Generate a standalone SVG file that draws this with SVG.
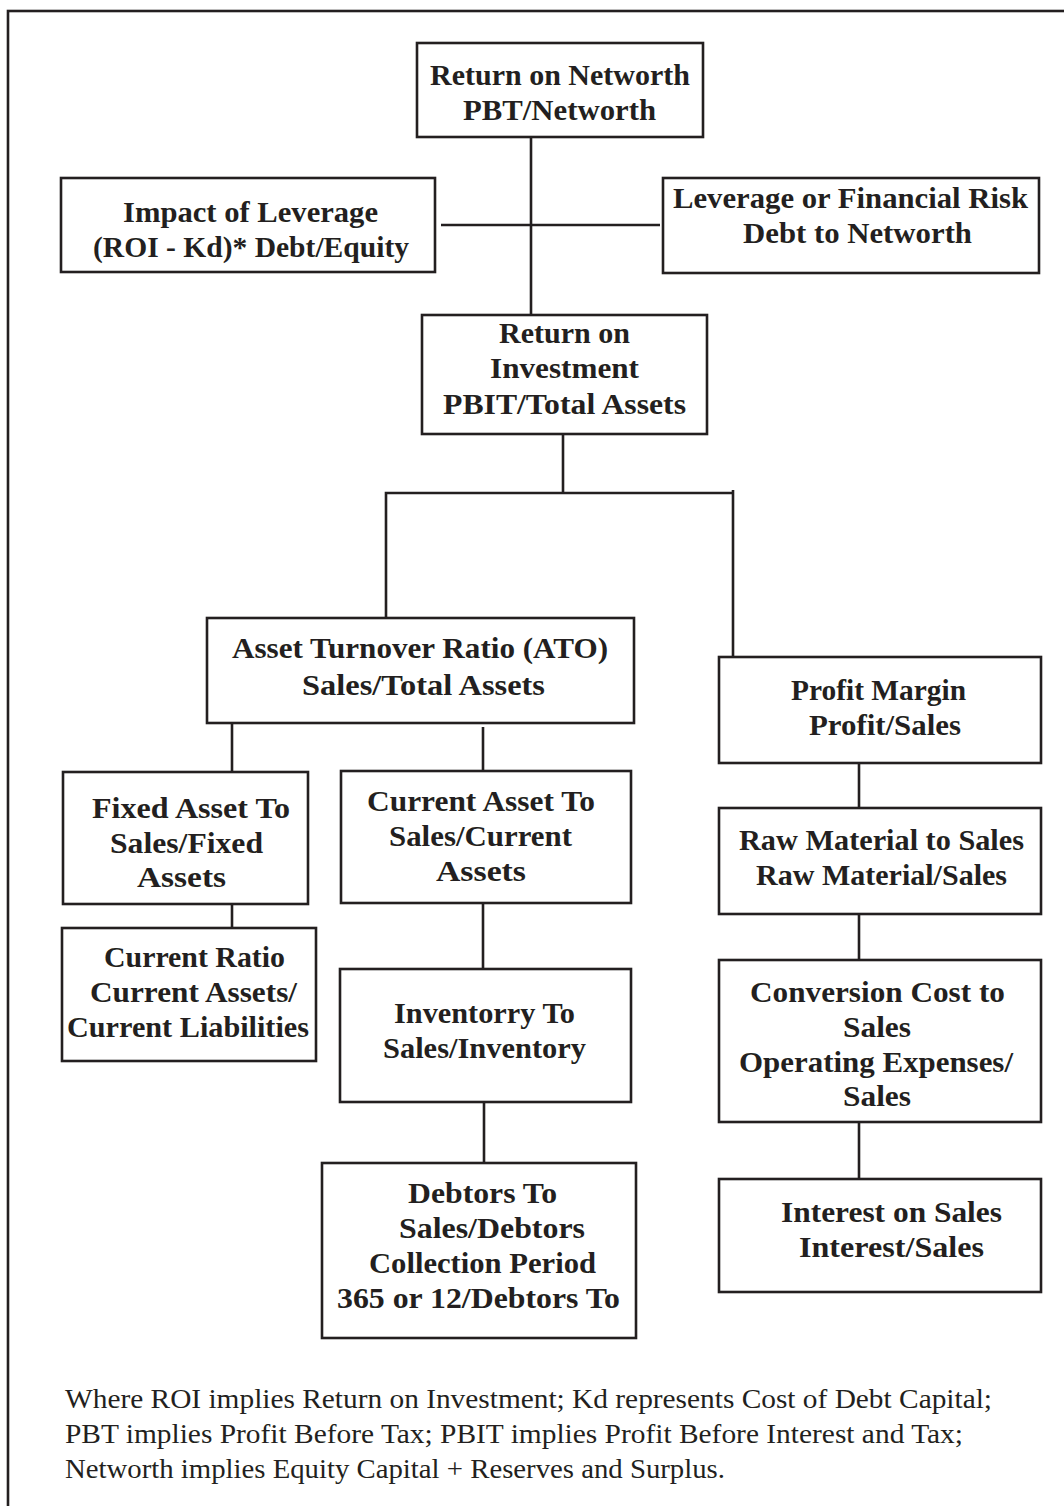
<svg xmlns="http://www.w3.org/2000/svg" width="1064" height="1506" viewBox="0 0 1064 1506">
<style>
  .box{fill:#ffffff;stroke:#231f20;stroke-width:2.6}
  .ln{fill:none;stroke:#231f20;stroke-width:2.6}
  .t{font-family:'Liberation Serif','Times New Roman',Times,serif;font-weight:bold;font-size:29px;fill:#231f20}
  .n{font-family:'Liberation Serif','Times New Roman',Times,serif;font-size:28px;fill:#231f20}
</style>
<rect x="0" y="0" width="1064" height="1506" fill="#ffffff"/>
<rect x="8" y="11" width="1100" height="1600" fill="none" stroke="#231f20" stroke-width="2.6"/>

<g id="connectors">
  <line class="ln" x1="531" y1="137" x2="531" y2="315"/>
  <line class="ln" x1="441" y1="225" x2="660" y2="225"/>
  <line class="ln" x1="563" y1="434" x2="563" y2="493"/>
  <polyline class="ln" points="386,618 386,493 733,493"/>
  <line class="ln" x1="733" y1="490" x2="733" y2="657"/>
  <line class="ln" x1="232" y1="723" x2="232" y2="772"/>
  <line class="ln" x1="483" y1="727" x2="483" y2="771"/>
  <line class="ln" x1="232" y1="904" x2="232" y2="928"/>
  <line class="ln" x1="483" y1="903" x2="483" y2="969"/>
  <line class="ln" x1="484" y1="1102" x2="484" y2="1163"/>
  <line class="ln" x1="859" y1="763" x2="859" y2="808"/>
  <line class="ln" x1="859" y1="914" x2="859" y2="960"/>
  <line class="ln" x1="859" y1="1122" x2="859" y2="1179"/>
</g>

<g id="return-on-networth">
  <rect class="box" x="417" y="43" width="286" height="94"/>
  <text class="t" x="430" y="85" textLength="260" lengthAdjust="spacingAndGlyphs">Return on Networth</text>
  <text class="t" x="463" y="120" textLength="193" lengthAdjust="spacingAndGlyphs">PBT/Networth</text>
</g>

<g id="impact-of-leverage">
  <rect class="box" x="61" y="178" width="374" height="94"/>
  <text class="t" x="123" y="222" textLength="255" lengthAdjust="spacingAndGlyphs">Impact of Leverage</text>
  <text class="t" x="93" y="257" textLength="316" lengthAdjust="spacingAndGlyphs">(ROI - Kd)* Debt/Equity</text>
</g>

<g id="leverage-financial-risk">
  <rect class="box" x="663" y="178" width="376" height="95"/>
  <text class="t" x="673" y="208" textLength="355" lengthAdjust="spacingAndGlyphs">Leverage or Financial Risk</text>
  <text class="t" x="743" y="243" textLength="229" lengthAdjust="spacingAndGlyphs">Debt to Networth</text>
</g>

<g id="return-on-investment">
  <rect class="box" x="422" y="315" width="285" height="119"/>
  <text class="t" x="499" y="343" textLength="131" lengthAdjust="spacingAndGlyphs">Return on</text>
  <text class="t" x="490" y="378" textLength="149" lengthAdjust="spacingAndGlyphs">Investment</text>
  <text class="t" x="443" y="414" textLength="243" lengthAdjust="spacingAndGlyphs">PBIT/Total Assets</text>
</g>

<g id="asset-turnover-ratio">
  <rect class="box" x="207" y="618" width="427" height="105"/>
  <text class="t" x="232" y="658" textLength="376" lengthAdjust="spacingAndGlyphs">Asset Turnover Ratio (ATO)</text>
  <text class="t" x="302" y="695" textLength="243" lengthAdjust="spacingAndGlyphs">Sales/Total Assets</text>
</g>

<g id="profit-margin">
  <rect class="box" x="719" y="657" width="322" height="106"/>
  <text class="t" x="791" y="700" textLength="175" lengthAdjust="spacingAndGlyphs">Profit Margin</text>
  <text class="t" x="809" y="735" textLength="152" lengthAdjust="spacingAndGlyphs">Profit/Sales</text>
</g>

<g id="fixed-asset-to">
  <rect class="box" x="63" y="772" width="245" height="132"/>
  <text class="t" x="92" y="818" textLength="198" lengthAdjust="spacingAndGlyphs">Fixed Asset To</text>
  <text class="t" x="110" y="853" textLength="153" lengthAdjust="spacingAndGlyphs">Sales/Fixed</text>
  <text class="t" x="137" y="887" textLength="89" lengthAdjust="spacingAndGlyphs">Assets</text>
</g>

<g id="current-ratio">
  <rect class="box" x="62" y="928" width="254" height="133"/>
  <text class="t" x="104" y="967" textLength="181" lengthAdjust="spacingAndGlyphs">Current Ratio</text>
  <text class="t" x="90" y="1002" textLength="207" lengthAdjust="spacingAndGlyphs">Current Assets/</text>
  <text class="t" x="67" y="1037" textLength="242" lengthAdjust="spacingAndGlyphs">Current Liabilities</text>
</g>

<g id="current-asset-to">
  <rect class="box" x="341" y="771" width="290" height="132"/>
  <text class="t" x="367" y="811" textLength="228" lengthAdjust="spacingAndGlyphs">Current Asset To</text>
  <text class="t" x="389" y="846" textLength="183" lengthAdjust="spacingAndGlyphs">Sales/Current</text>
  <text class="t" x="436" y="881" textLength="90" lengthAdjust="spacingAndGlyphs">Assets</text>
</g>

<g id="inventory-to">
  <rect class="box" x="340" y="969" width="291" height="133"/>
  <text class="t" x="394" y="1023" textLength="181" lengthAdjust="spacingAndGlyphs">Inventorry To</text>
  <text class="t" x="383" y="1058" textLength="203" lengthAdjust="spacingAndGlyphs">Sales/Inventory</text>
</g>

<g id="debtors-to">
  <rect class="box" x="322" y="1163" width="314" height="175"/>
  <text class="t" x="408" y="1203" textLength="149" lengthAdjust="spacingAndGlyphs">Debtors To</text>
  <text class="t" x="399" y="1238" textLength="186" lengthAdjust="spacingAndGlyphs">Sales/Debtors</text>
  <text class="t" x="369" y="1273" textLength="227" lengthAdjust="spacingAndGlyphs">Collection Period</text>
  <text class="t" x="337" y="1308" textLength="283" lengthAdjust="spacingAndGlyphs">365 or 12/Debtors To</text>
</g>

<g id="raw-material-to-sales">
  <rect class="box" x="719" y="808" width="322" height="106"/>
  <text class="t" x="739" y="850" textLength="285" lengthAdjust="spacingAndGlyphs">Raw Material to Sales</text>
  <text class="t" x="756" y="885" textLength="251" lengthAdjust="spacingAndGlyphs">Raw Material/Sales</text>
</g>

<g id="conversion-cost-to-sales">
  <rect class="box" x="719" y="960" width="322" height="162"/>
  <text class="t" x="750" y="1002" textLength="255" lengthAdjust="spacingAndGlyphs">Conversion Cost to</text>
  <text class="t" x="843" y="1037" textLength="68" lengthAdjust="spacingAndGlyphs">Sales</text>
  <text class="t" x="739" y="1072" textLength="274" lengthAdjust="spacingAndGlyphs">Operating Expenses/</text>
  <text class="t" x="843" y="1106" textLength="68" lengthAdjust="spacingAndGlyphs">Sales</text>
</g>

<g id="interest-on-sales">
  <rect class="box" x="719" y="1179" width="322" height="113"/>
  <text class="t" x="781" y="1222" textLength="221" lengthAdjust="spacingAndGlyphs">Interest on Sales</text>
  <text class="t" x="799" y="1257" textLength="185" lengthAdjust="spacingAndGlyphs">Interest/Sales</text>
</g>

<g id="footnote">
  <text class="n" x="65" y="1408" textLength="927" lengthAdjust="spacingAndGlyphs">Where ROI implies Return on Investment; Kd represents Cost of Debt Capital;</text>
  <text class="n" x="65" y="1443" textLength="898" lengthAdjust="spacingAndGlyphs">PBT implies Profit Before Tax; PBIT implies Profit Before Interest and Tax;</text>
  <text class="n" x="65" y="1478" textLength="660" lengthAdjust="spacingAndGlyphs">Networth implies Equity Capital + Reserves and Surplus.</text>
</g>
</svg>
